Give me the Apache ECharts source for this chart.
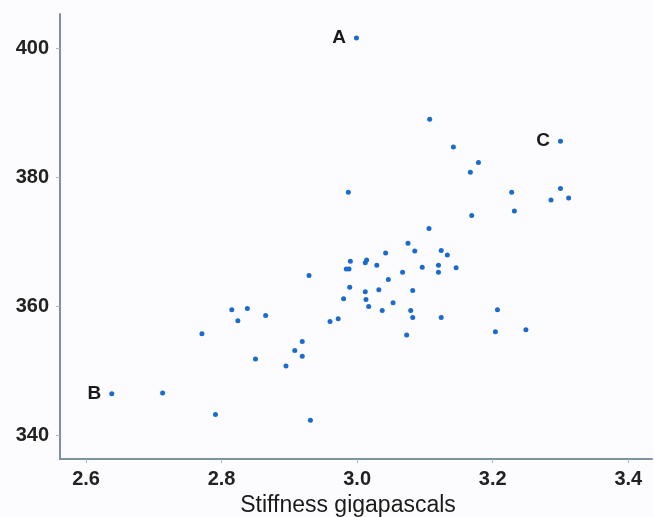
<!DOCTYPE html>
<html>
<head>
<meta charset="utf-8">
<script src="https://cdn.jsdelivr.net/npm/echarts@6/dist/echarts.min.js"></script>
<style>
  html, body { margin: 0; padding: 0; background: #fcfcfe; }
  #chart { width: 654px; height: 517px; }
</style>
</head>
<body>
<div id="chart"></div>
<script>
// stiffness (GPa) and the matching y value for each sample
var stiffness = [
  3.107, 3.142, 3.179, 3.167, 2.987, 3.228, 3.300, 3.286, 3.312, 3.232,
  3.169, 3.106, 3.075, 3.085, 3.042, 3.124, 3.133, 2.990, 3.014, 3.012,
  3.029, 2.984, 2.988, 3.096, 3.120, 3.146, 2.929, 3.067, 3.120, 3.046,
  2.989, 3.012, 3.032, 3.082, 2.980, 3.013, 3.053, 3.017, 3.037, 3.079,
  3.082, 3.124, 2.960, 2.972, 3.073, 2.919, 2.908, 2.919, 3.207, 3.204,
  3.249, 2.815, 2.838, 2.824, 2.865, 2.771, 2.850, 2.895, 2.713, 2.791,
  2.931
];
var values = [
  389.0, 384.7, 382.3, 380.8, 377.7, 377.7, 378.3, 376.5, 376.8, 374.8,
  374.1, 372.1, 369.8, 368.6, 368.3, 368.7, 368.0, 367.0, 367.2, 366.8,
  366.4, 365.8, 365.8, 366.1, 366.4, 366.0, 364.8, 365.3, 365.3, 364.2,
  363.0, 362.3, 362.6, 362.5, 361.2, 361.1, 360.6, 360.0, 359.4, 359.4,
  358.3, 358.3, 357.7, 358.1, 355.6, 354.6, 353.2, 352.3, 359.5, 356.1,
  356.4, 359.5, 359.7, 357.8, 358.6, 355.8, 351.9, 350.8, 346.6, 343.3,
  342.4
];
// the three marked samples
var taggedX = [2.999, 2.638, 3.300];
var taggedY = [401.6, 346.5, 385.6];
var taggedNames = ['A', 'B', 'C'];

var xTicks = [2.6, 2.8, 3.0, 3.2, 3.4];
var yTicks = [340, 360, 380, 400];

var dotColor = '#1b6bcc';
var axisColor = '#7e929c';

var mainData = stiffness.map(function (x, i) { return [x, values[i]]; });
var taggedData = taggedX.map(function (x, i) {
  return { name: taggedNames[i], value: [x, taggedY[i]] };
});

var chart = echarts.init(document.getElementById('chart'));
chart.setOption({
  backgroundColor: '#fcfcfe',
  animation: false,
  grid: { left: 60, right: 2, top: 14, bottom: 58, outerBoundsMode: 'none', containLabel: false },
  xAxis: {
    type: 'value',
    min: 2.5616,
    max: 3.435,
    name: 'Stiffness gigapascals',
    nameLocation: 'middle',
    nameGap: 30,
    nameTextStyle: {
      fontFamily: 'Liberation Sans', fontSize: 23, color: '#1a1a1a',
      padding: [0, 16, 0, 0]
    },
    axisLine: { show: true, onZero: false, lineStyle: { color: axisColor, width: 2 } },
    axisTick: { show: true, length: 4, customValues: xTicks, lineStyle: { color: '#a9b8c0' } },
    axisLabel: {
      customValues: xTicks, margin: 10,
      fontFamily: 'Liberation Sans', fontWeight: 'bold', fontSize: 20, color: '#222',
      formatter: function (v) { return v.toFixed(1); }
    },
    splitLine: { show: false }
  },
  yAxis: {
    type: 'value',
    min: 336.4,
    max: 405.3,
    axisLine: { show: true, onZero: false, lineStyle: { color: axisColor, width: 2 } },
    axisTick: { show: true, length: 4, customValues: yTicks, lineStyle: { color: '#a9b8c0' } },
    axisLabel: {
      customValues: yTicks, margin: 11,
      fontFamily: 'Liberation Sans', fontWeight: 'bold', fontSize: 20, color: '#222'
    },
    splitLine: { show: false }
  },
  series: [
    {
      type: 'scatter',
      data: mainData,
      symbolSize: 5,
      itemStyle: { color: dotColor, opacity: 1 }
    },
    {
      type: 'scatter',
      data: taggedData,
      symbolSize: 5,
      itemStyle: { color: dotColor, opacity: 1 },
      label: {
        show: true, position: 'left', distance: 8,
        formatter: '{b}',
        fontFamily: 'Liberation Sans', fontWeight: 'bold', fontSize: 19, color: '#1a1a1a'
      }
    }
  ]
});
</script>
</body>
</html>
